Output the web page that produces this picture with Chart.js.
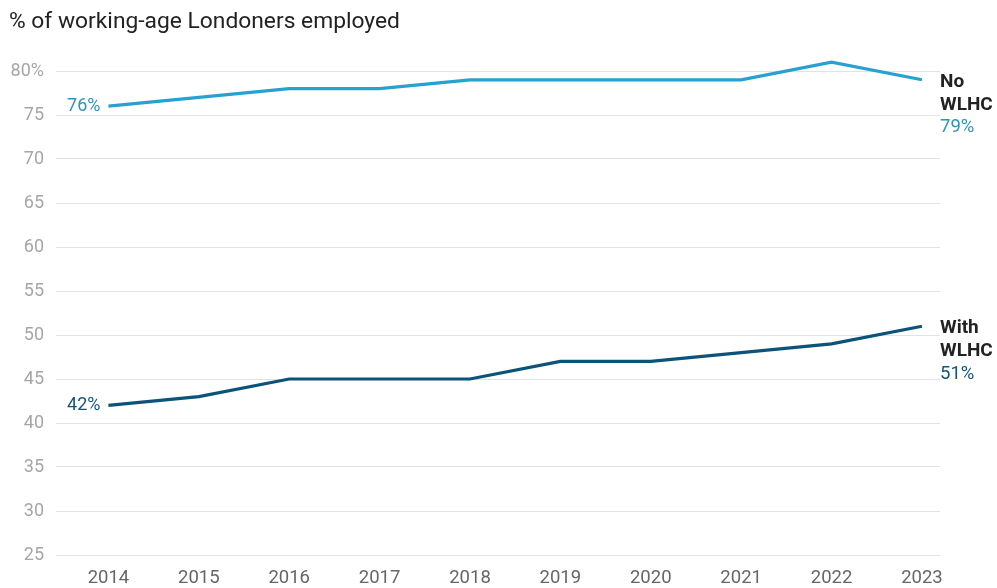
<!DOCTYPE html>
<html>
<head>
<meta charset="utf-8">
<script src="https://cdn.jsdelivr.net/npm/chart.js@4"></script>
<style>
    html, body { margin: 0; padding: 0; background: #fff; }
    #wrap { width: 997px; height: 588px; position: relative; }
</style>
</head>
<body>
<div id="wrap"><canvas id="chart"></canvas></div>
<script>
const years = [2014, 2015, 2016, 2017, 2018, 2019, 2020, 2021, 2022, 2023];
const noWlhc = [76, 77, 78, 78, 79, 79, 79, 79, 81, 79];
const withWlhc = [42, 43, 45, 45, 45, 47, 47, 48, 49, 51];
const yTicks = [25, 30, 35, 40, 45, 50, 55, 60, 65, 70, 75, 80];

const titleText = "% of working-age Londoners employed";
const lightBlue = "#27a2d0";
const darkBlue = "#0b5379";
const font = "Roboto, 'Noto Sans', sans-serif";

function toPoints(values) {
    return years.map((year, i) => ({ x: year, y: values[i] }));
}

// draws the title plus the start/end labels next to each line
const labelPlugin = {
    id: "lineLabels",
    afterDatasetsDraw(chart) {
        const ctx = chart.ctx;
        ctx.save();

        ctx.fillStyle = "#222";
        ctx.font = `22.8px ${font}`;
        ctx.textAlign = "left";
        ctx.textBaseline = "middle";
        ctx.fillText(titleText, 9, 22);

        chart.data.datasets.forEach((ds, idx) => {
            const meta = chart.getDatasetMeta(idx);
            const first = meta.data[0];
            const last = meta.data[meta.data.length - 1];
            const firstVal = ds.data[0].y;
            const lastVal = ds.data[ds.data.length - 1].y;

            ctx.font = `18px ${font}`;
            ctx.fillStyle = ds.labelColor;
            ctx.textAlign = "right";
            ctx.fillText(firstVal + "%", first.x - 8, first.y);

            ctx.textAlign = "left";
            const x = chart.chartArea.right;
            ctx.font = `bold 19px ${font}`;
            ctx.fillStyle = "#222";
            ctx.fillText(ds.nameTop, x, last.y + 2);
            ctx.fillText("WLHC", x, last.y + 25);
            ctx.font = `18.5px ${font}`;
            ctx.fillStyle = ds.labelColor;
            ctx.fillText(lastVal + "%", x, last.y + 48);
        });

        ctx.restore();
    },
};

new Chart(document.getElementById("chart"), {
    type: "line",
    data: {
        datasets: [
            {
                label: "No WLHC",
                nameTop: "No",
                data: toPoints(noWlhc),
                borderColor: lightBlue,
                labelColor: "#2a93bf",
                borderWidth: 3.2,
                pointRadius: 0,
                tension: 0,
                clip: false,
            },
            {
                label: "With WLHC",
                nameTop: "With",
                data: toPoints(withWlhc),
                borderColor: darkBlue,
                labelColor: "#11557c",
                borderWidth: 3.2,
                pointRadius: 0,
                tension: 0,
                clip: false,
            },
        ],
    },
    options: {
        responsive: true,
        maintainAspectRatio: false,
        animation: false,
        layout: {
            padding: { top: 71, right: 57, left: 0, bottom: 0 },
        },
        plugins: {
            legend: { display: false },
            tooltip: { enabled: false },
        },
        scales: {
            x: {
                type: "linear",
                min: 2013.42,
                max: 2023.2,
                afterBuildTicks(scale) {
                    scale.ticks = years.map(v => ({ value: v }));
                },
                afterFit(scale) {
                    scale.height = 33;
                },
                grid: { display: false },
                border: { display: false },
                ticks: {
                    padding: 4,
                    color: "#666",
                    font: { family: font, size: 18.5 },
                    callback: v => String(v),
                },
            },
            y: {
                min: 25,
                max: 80,
                afterBuildTicks(scale) {
                    scale.ticks = yTicks.map(v => ({ value: v }));
                },
                afterFit(scale) {
                    scale.width = 56;
                },
                grid: { color: "#e2e2e2", lineWidth: 1, drawTicks: false },
                border: { display: false },
                ticks: {
                    padding: 12,
                    color: "#a6a6a6",
                    font: { family: font, size: 18 },
                    callback: v => (v === 80 ? "80%" : String(v)),
                },
            },
        },
    },
    plugins: [labelPlugin],
});
</script>
</body>
</html>
